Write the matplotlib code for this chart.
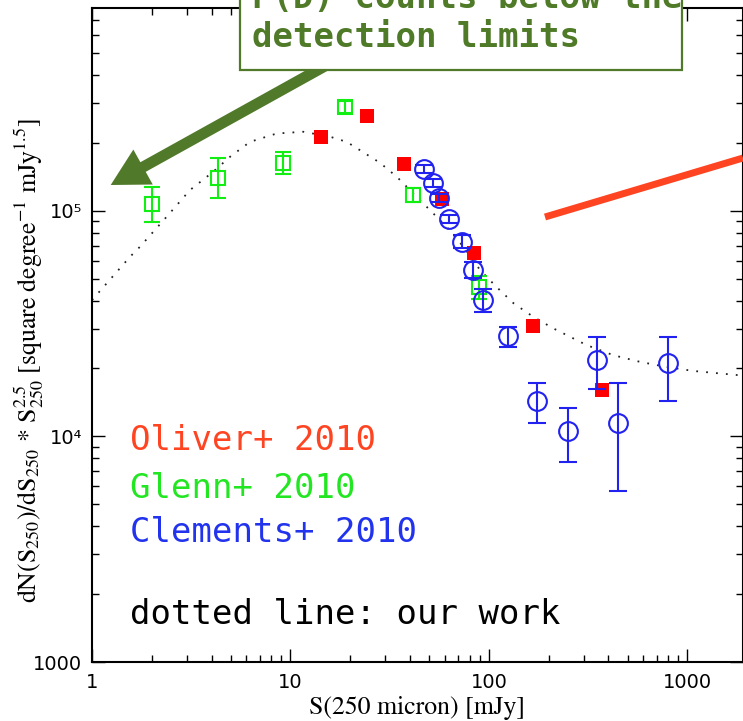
import matplotlib
matplotlib.use("Agg")
import matplotlib.pyplot as plt
from matplotlib.patches import Rectangle, FancyArrow
from matplotlib.lines import Line2D
import numpy as np

plt.rcParams['mathtext.fontset'] = 'stix'

# ---- data ----
glenn_x = [2.01, 4.33, 9.14, 18.8, 41.6, 89.4]
glenn_y = [1.068e5, 1.392e5, 1.633e5, 2.89e5, 1.174e5, 4.6e4]
glenn_hi = [1.277e5, 1.718e5, 1.826e5, 3.07e5, 1.261e5, 5.13e4]
glenn_lo = [8.88e4, 1.135e5, 1.455e5, 2.72e5, 1.093e5, 4.07e4]

oliver_x = [14.2, 24.3, 37.4, 58.2, 84.3, 166, 371]
oliver_y = [2.13e5, 2.63e5, 1.606e5, 1.127e5, 6.51e4, 3.09e4, 1.604e4]

clem_x = [47.2, 52.0, 56.2, 63.1, 72.9, 82.8, 92.9, 125, 175, 249, 349, 448, 795]
clem_y = [1.526e5, 1.331e5, 1.142e5, 9.16e4, 7.29e4, 5.46e4, 4.02e4, 2.78e4,
          1.438e4, 1.056e4, 2.19e4, 1.149e4, 2.11e4]
clem_hi = [1.59e5, 1.387e5, 1.19e5, 9.55e4, 7.81e4, 5.91e4, 4.5e4, 3.06e4,
           1.723e4, 1.34e4, 2.76e4, 1.723e4, 2.76e4]
clem_lo = [1.465e5, 1.277e5, 1.096e5, 8.79e4, 6.81e4, 5.02e4, 3.55e4, 2.5e4,
           1.149e4, 7.67e3, 1.626e4, 5.74e3, 1.438e4]

model_x = [1.0, 1.554, 1.745, 2.378, 3.115, 4.08, 4.96, 6.25, 8.52, 11.6, 15.8,
           19.2, 28.2, 34.3, 41.4, 50.4, 61.2, 74.3, 90.2, 109, 133, 167, 211,
           237, 310, 423, 576, 786, 1070, 1900]
model_y = [4.02e4, 6.25e4, 6.93e4, 9.41e4, 1.235e5, 1.489e5, 1.735e5, 2.02e5,
           2.20e5, 2.24e5, 2.13e5, 2.02e5, 1.633e5, 1.415e5, 1.198e5, 1.007e5,
           8.49e4, 6.93e4, 5.46e4, 4.6e4, 3.89e4, 3.39e4, 3.01e4, 2.86e4,
           2.54e4, 2.29e4, 2.14e4, 2.03e4, 1.95e4, 1.86e4]

xticks = [1, 10, 100, 1000]
xticklabels = ['1', '10', '100', '1000']
yticks = [1000, 1e4, 1e5]
yticklabels = ['1000', '10\u2074', '10\u2075']

legend_labels = ['Oliver+ 2010', 'Glenn+ 2010', 'Clements+ 2010', 'dotted line: our work']
legend_colors = ['#ff4422', '#22e622', '#2233ee', '#000000']
box_lines = ['P(D) counts below the', 'detection limits']

# ---- figure ----
W, H = 743, 721
fig = plt.figure(figsize=(W / 100, H / 100), dpi=100)
ax = fig.add_axes([92 / W, (H - 662) / H, (W - 92) / W, (662 - 8) / H])
ax.set_xscale('log')
ax.set_yscale('log')
ax.set_xlim(1, 1904)
ax.set_ylim(1000, 7.92e5)

green = '#11ee11'
blue = '#2222f0'
ax.plot(model_x, model_y, color='#222222', lw=1.3, linestyle=(0, (1, 4.5)), zorder=2)

gy = np.array(glenn_y)
ax.errorbar(glenn_x, glenn_y, yerr=[gy - np.array(glenn_lo), np.array(glenn_hi) - gy],
            fmt='s', mfc='none', mec=green, ms=9.5, mew=1.5, ecolor=green,
            elinewidth=1.5, capsize=6, capthick=1.5, zorder=3)
ax.plot(oliver_x, oliver_y, 's', color='#ff0000', ms=9.5, mew=0, zorder=4)
cy = np.array(clem_y)
ax.errorbar(clem_x, clem_y, yerr=[cy - np.array(clem_lo), np.array(clem_hi) - cy],
            fmt='o', mfc='none', mec=blue, ms=13.5, mew=1.5, ecolor=blue,
            elinewidth=1.5, capsize=6.5, capthick=1.5, zorder=5)

ax.set_xticks(xticks)
ax.set_xticklabels(xticklabels)
ax.set_yticks(yticks)
ax.set_yticklabels(yticklabels)
ax.tick_params(which='both', direction='in', top=True, right=True, width=1.0,
               labelsize=14)
ax.tick_params(which='major', length=9.5)
ax.tick_params(which='minor', length=5)
ax.tick_params(axis='x', pad=8)
ax.tick_params(axis='y', pad=7)
ax.yaxis.set_minor_formatter(matplotlib.ticker.NullFormatter())
ax.xaxis.set_minor_formatter(matplotlib.ticker.NullFormatter())
for s in ax.spines.values():
    s.set_linewidth(1.5)

ax.set_xlabel('S(250 micron) [mJy]', family='STIXGeneral', fontsize=18.5)
ax.set_ylabel(r'dN(S$_{250}$)/dS$_{250}$ * S$_{250}^{2.5}$ [square degree$^{-1}$ mJy$^{1.5}$]',
              family='STIXGeneral', fontsize=18.5)
ax.xaxis.set_label_coords((417 - 92) / 651, -(696 - 662) / 654)
ax.yaxis.set_label_coords((46 - 92) / 651, (662 - 360) / 654)


def fp(x, y):
    return x / W, 1 - y / H


# legend texts
ys = [441, 489, 532, 615]
for lab, col, yy in zip(legend_labels, legend_colors, ys):
    fig.text(*fp(130, yy), lab, color=col, family='DejaVu Sans Mono',
             fontsize=24.5, va='center', ha='left')

# orange line
fig.add_artist(Line2D([545 / W, 1.0], [1 - 217 / H, 1 - 158 / H],
                      transform=fig.transFigure, lw=5, color='#ff4422',
                      solid_capstyle='butt', zorder=6))

# green arrow (inches)
tail = (325 / 100, (H - 66) / 100)
tip = (110.7 / 100, (H - 185) / 100)
fig.add_artist(FancyArrow(tail[0], tail[1], tip[0] - tail[0], tip[1] - tail[1],
                          width=0.11, head_width=0.40, head_length=0.37,
                          length_includes_head=True, transform=fig.dpi_scale_trans,
                          color='#507a2a', lw=0, zorder=7))

# box
fig.add_artist(Rectangle(fp(240, 70), (682 - 240) / W, 0.2, transform=fig.transFigure,
                         facecolor='white', edgecolor='#507a2a', lw=1.6, zorder=8))
for line, yb in zip(box_lines, [8, 47]):
    fig.text(*fp(252, yb), line, color='#4f7a28', family='DejaVu Sans Mono',
             fontweight='bold', fontsize=24.5, va='baseline', ha='left', zorder=9)

fig.savefig('out.png', dpi=100)
